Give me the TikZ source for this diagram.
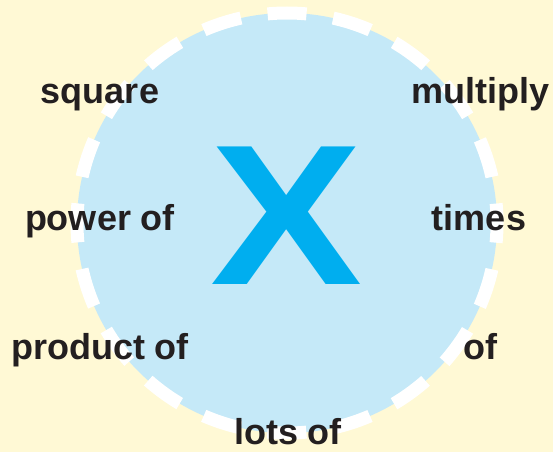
\documentclass[tikz,border=0pt]{standalone}
\usepackage{fontspec}
\setmainfont{Liberation Sans}
\usepackage{xcolor}
\usepackage{tikz}
\usetikzlibrary{positioning}
\definecolor{paleyellow}{HTML}{FFF9D5}
\definecolor{paleblue}{HTML}{C5E9F8}
\definecolor{xcyan}{HTML}{00AEEF}
\definecolor{inkdark}{HTML}{231F20}

\begin{document}
\begin{tikzpicture}[x=1pt, y=-1pt,
    ring/.style={circle, draw=white, fill=paleblue, line width=13pt, minimum size=420pt, inner sep=0pt,
        dash pattern=on 39pt off 26.97pt, dash phase=19.5pt},
    word/.style={anchor=base, inner sep=0pt, text=inkdark, font=\fontsize{36}{40}\selectfont\bfseries},
    bigx/.style={inner sep=0pt, text=xcyan, xscale=1.14, font=\fontsize{200}{210}\selectfont\bfseries}
]
\fill[paleyellow] (0,0) rectangle (553,452);
\useasboundingbox (0,0) rectangle (553,452);
\node[ring] (ring) at (287,223) {};
\node[bigx] (sign) at (287,216) {X};
% words round the sign
\node[word] (square) at (100,103) {square};
\node[word] (multiply) at (480,103) {multiply};
\node[word] (power) at (100,230) {power of};
\node[word] (times) at (479,230) {times};
\node[word] (product) at (100,359) {product of};
\node[word] (of) at (480,359) {of};
\node[word] (lots) at (288,444) {lots of};
\end{tikzpicture}
\end{document}
